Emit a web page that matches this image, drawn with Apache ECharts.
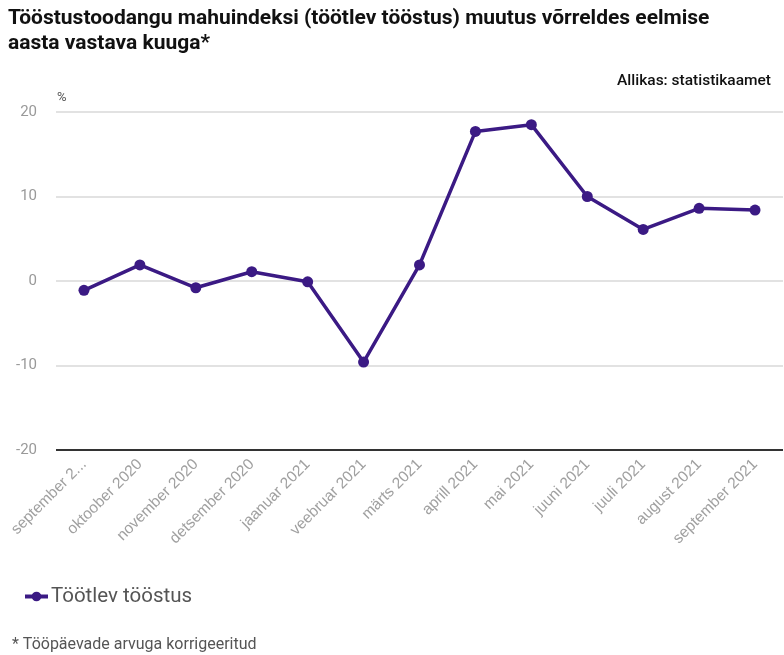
<!DOCTYPE html>
<html><head><meta charset="utf-8">
<script src="https://cdn.jsdelivr.net/npm/echarts@6/dist/echarts.min.js"></script>
<style>html,body{margin:0;padding:0;background:#fff}#c{width:784px;height:655px}</style>
</head><body><div id="c"></div>
<script>
const categories = ['september 2020','oktoober 2020','november 2020','detsember 2020','jaanuar 2021','veebruar 2021','märts 2021','aprill 2021','mai 2021','juuni 2021','juuli 2021','august 2021','september 2021'];
const values = [-1.1, 1.9, -0.8, 1.1, -0.1, -9.6, 1.9, 17.7, 18.5, 10.0, 6.1, 8.6, 8.4];
const seriesName = 'Töötlev tööstus';
const titleText = 'Tööstustoodangu mahuindeksi (töötlev tööstus) muutus võrreldes eelmise\naasta vastava kuuga*';
const sourceText = 'Allikas: statistikaamet';
const footText = '* Tööpäevade arvuga korrigeeritud';

const chart = echarts.init(document.getElementById('c'));
chart.setOption({
  animation: false,
  textStyle: {fontFamily: 'Roboto'},
  title: [
    {text: titleText, left: 3, top: 1, textStyle: {fontFamily: 'Roboto', fontWeight: 'bold', fontSize: 21, color: '#111', lineHeight: 25}},
    {text: sourceText, right: 8, top: 68, textStyle: {fontFamily: 'Roboto', fontWeight: 500, fontSize: 15.5, color: '#111'}},
    {text: '%', left: 52, top: 86, textStyle: {fontFamily: 'Roboto', fontWeight: 'normal', fontSize: 13, color: '#555'}},
    {text: footText, left: 7, top: 632, textStyle: {fontFamily: 'Roboto', fontWeight: 'normal', fontSize: 16, color: '#555'}}
  ],
  legend: {
    left: 18, top: 581, itemWidth: 23, itemHeight: 12, itemGap: 10,
    textStyle: {fontFamily: 'Roboto', fontSize: 20.5, color: '#555', padding: [0, 0, 0, -2]},
    lineStyle: {width: 4},
    data: [seriesName]
  },
  grid: {left: 56, right: 1, top: 112, bottom: 205, containLabel: false},
  xAxis: {
    type: 'category', data: categories, boundaryGap: true,
    axisLine: {show: false}, axisTick: {show: false},
    axisLabel: {rotate: 45, color: '#a0a0a0', fontFamily: 'Liberation Sans', fontSize: 15.5, margin: 12, interval: 0,
      formatter: (v, i) => i === 0 ? v.slice(0, 11) + '...' : v}
  },
  yAxis: {
    type: 'value', min: -20, max: 20, interval: 10,
    axisLine: {show: false}, axisTick: {show: false},
    axisLabel: {color: '#999', fontFamily: 'Roboto', fontSize: 15, margin: 19},
    splitLine: {lineStyle: {color: '#e2e2e2', width: 2}}
  },
  series: [
    {
      name: seriesName, type: 'line', data: values,
      symbol: 'circle', symbolSize: 11, showSymbol: true,
      lineStyle: {color: '#3b1a84', width: 3.5},
      itemStyle: {color: '#3b1a84'},
      markLine: {
        silent: true, symbol: 'none', label: {show: false},
        lineStyle: {color: '#333', width: 2, type: 'solid'},
        data: [{yAxis: -20}]
      },
      z: 3
    }
  ]
});
</script></body></html>
